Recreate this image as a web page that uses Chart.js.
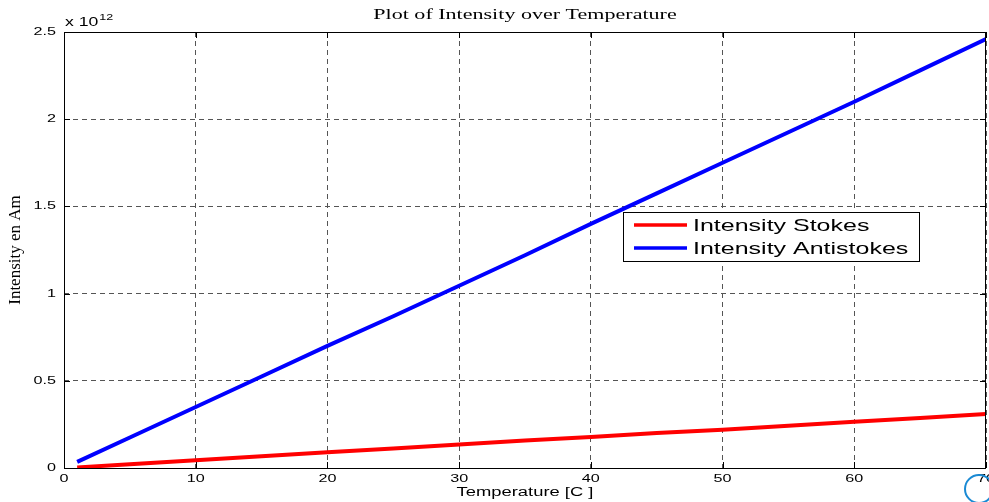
<!DOCTYPE html>
<html><head><meta charset="utf-8">
<script src="https://cdn.jsdelivr.net/npm/chart.js@4/dist/chart.umd.min.js"></script>
<style>html,body{margin:0;padding:0;background:#fff;overflow:hidden}</style>
</head><body>
<canvas id="c" width="989" height="502"></canvas>
<script>
// ---- data (intensity in units of 10^12) ----
const temperatures = [1, 5, 10, 15, 20, 25, 30, 35, 40, 45, 50, 55, 60, 65, 70];
const stokes       = [0.003, 0.022, 0.045, 0.067, 0.09, 0.112, 0.135, 0.157, 0.178, 0.2, 0.22, 0.242, 0.265, 0.287, 0.31];
const antistokes   = [0.035, 0.175, 0.35, 0.525, 0.70, 0.87, 1.045, 1.22, 1.40, 1.575, 1.75, 1.925, 2.10, 2.28, 2.46];
const xTickValues  = [0, 10, 20, 30, 40, 50, 60, 70];
const yTickValues  = [0, 0.5, 1, 1.5, 2, 2.5];
const exponentText = '12';
const seriesNames  = ['Intensity Stokes', 'Intensity Antistokes'];
const seriesColors = ['#ff0000', '#0000ff'];
const chartTitle   = 'Plot of Intensity over Temperature';
const xAxisTitle   = 'Temperature [C ]';
const yAxisTitle   = 'Intensity en Am';

const canvas = document.getElementById('c');
const ctx = canvas.getContext('2d');
// the reference figure is stretched horizontally: stretch unrotated text the same way
const STRETCH = 1.47;
const origFill = ctx.fillText.bind(ctx);
ctx.fillText = function (text, x, y, maxWidth) {
  const m = this.getTransform();
  if (Math.abs(m.b) > 1e-6 || Math.abs(m.c) > 1e-6) {
    return maxWidth === undefined ? origFill(text, x, y) : origFill(text, x, y, maxWidth);
  }
  const p = m.transformPoint(new DOMPoint(x, y));
  const nm = new DOMMatrix().translate(p.x, p.y).scale(STRETCH, 1).translate(-p.x, -p.y).multiply(m);
  this.setTransform(nm);
  origFill(text, x, y);
  this.setTransform(m);
};

const sans = "'Liberation Sans', Arial, sans-serif";
const serif = "'Liberation Serif', 'Times New Roman', serif";

const decor = {
  id: 'decor',
  afterDatasetsDraw(chart) {
    const c = chart.ctx, a = chart.chartArea;
    const xs = chart.scales.x, ys = chart.scales.y;
    c.save();
    c.setLineDash([]);
    c.strokeStyle = '#000';
    c.lineWidth = 1;
    // axes box
    c.strokeRect(Math.round(a.left) + 0.5, Math.round(a.top) + 0.5, Math.round(a.right - a.left) - 1, Math.round(a.bottom - a.top));
    // inner tick marks
    const tl = 6;
    c.beginPath();
    xTickValues.forEach(v => {
      const px = Math.round(xs.getPixelForValue(v)) + 0.5;
      c.moveTo(px, a.bottom); c.lineTo(px, a.bottom - tl);
      c.moveTo(px, a.top); c.lineTo(px, a.top + tl);
    });
    yTickValues.forEach(v => {
      const py = Math.round(ys.getPixelForValue(v)) + 0.5;
      c.moveTo(a.left, py); c.lineTo(a.left + tl, py);
      c.moveTo(a.right, py); c.lineTo(a.right - tl, py);
    });
    c.stroke();
    // exponent label
    c.fillStyle = '#000';
    c.textAlign = 'left';
    c.textBaseline = 'alphabetic';
    c.font = '12px ' + sans;
    const base = 'x 10';
    c.fillText(base, a.left + 1, 26);
    const w = c.measureText(base).width * STRETCH;
    c.font = '8.5px ' + sans;
    c.fillText(exponentText, a.left + 2 + w, 20);
    // legend
    const lx = 623, ly = 212, lw = 296, lh = 49;
    c.fillStyle = '#fff';
    c.fillRect(lx, ly, lw, lh);
    c.strokeStyle = '#000';
    c.lineWidth = 1;
    c.strokeRect(lx + 0.5, ly + 0.5, lw, lh);
    chart.data.datasets.forEach((ds, i) => {
      const yy = ly + 13 + i * 23;
      c.strokeStyle = ds.borderColor;
      c.lineWidth = 3.5;
      c.beginPath(); c.moveTo(634, yy); c.lineTo(687, yy); c.stroke();
      c.fillStyle = '#000';
      c.font = '17px ' + sans;
      c.textBaseline = 'middle';
      c.fillText(ds.label, 693, yy + 1);
    });
    // circular marker at bottom-right corner
    c.strokeStyle = '#1a8ad4';
    c.lineWidth = 2;
    c.beginPath(); c.arc(979, 489, 14, 0, Math.PI * 2); c.stroke();
    c.restore();
  }
};

new Chart(ctx, {
  type: 'line',
  data: {
    datasets: [
      { label: seriesNames[0], data: temperatures.map((t, i) => ({ x: t, y: stokes[i] })),
        borderColor: seriesColors[0], backgroundColor: seriesColors[0], borderWidth: 4, pointRadius: 0, tension: 0, fill: false },
      { label: seriesNames[1], data: temperatures.map((t, i) => ({ x: t, y: antistokes[i] })),
        borderColor: seriesColors[1], backgroundColor: seriesColors[1], borderWidth: 4, pointRadius: 0, tension: 0, fill: false }
    ]
  },
  options: {
    responsive: false,
    animation: false,
    devicePixelRatio: 1,
    layout: { padding: { left: 0, right: 3, top: 0, bottom: 0 } },
    plugins: {
      legend: { display: false },
      tooltip: { enabled: false },
      title: {
        display: true, text: chartTitle, fullSize: false, color: '#000',
        font: { family: serif, size: 15, weight: 'normal' },
        padding: { top: 6, bottom: 8 }
      }
    },
    scales: {
      x: {
        type: 'linear', min: 0, max: 70,
        afterBuildTicks: s => { s.ticks = xTickValues.map(v => ({ value: v })); },
        afterFit: s => { s.height = 34; s.paddingLeft = 0; s.paddingRight = 0; },
        grid: { color: '#555', lineWidth: 1, drawTicks: false },
        border: { display: false, dash: [5, 4] },
        ticks: { color: '#000', font: { family: sans, size: 11 }, padding: 4, maxRotation: 0, autoSkip: false,
                 callback: v => String(v) },
        title: { display: true, text: xAxisTitle, color: '#000', font: { family: sans, size: 12.5 }, padding: { top: 0, bottom: 2 } }
      },
      y: {
        type: 'linear', min: 0, max: 2.5,
        afterBuildTicks: s => { s.ticks = yTickValues.map(v => ({ value: v })); },
        afterFit: s => { s.width = 64; s.paddingTop = 0; s.paddingBottom = 0; },
        grid: { color: '#555', lineWidth: 1, drawTicks: false },
        border: { display: false, dash: [5, 4] },
        ticks: { color: '#000', font: { family: sans, size: 11 }, padding: 8, callback: v => String(v) },
        title: { display: true, text: yAxisTitle, color: '#000', font: { family: serif, size: 17 }, padding: { top: 5, bottom: 0 } }
      }
    }
  },
  plugins: [decor]
});
</script>
</body></html>
